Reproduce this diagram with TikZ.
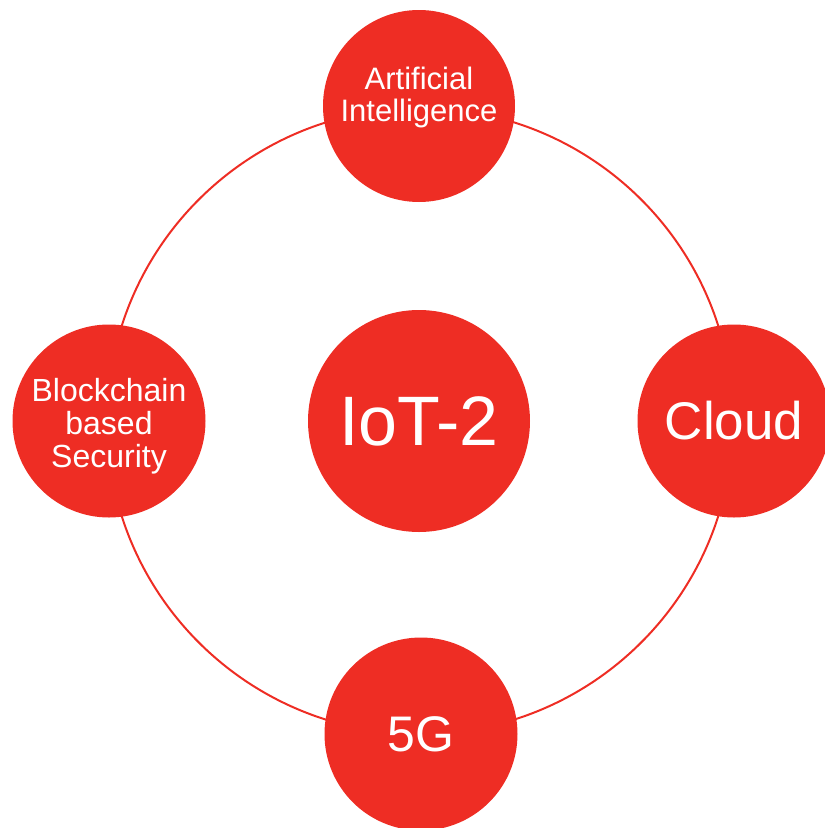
\documentclass[tikz,border=0pt]{standalone}
\usepackage{fontspec}
\setmainfont{Liberation Sans}
\definecolor{iotred}{HTML}{EE2D24}
\begin{document}
\begin{tikzpicture}[x=1pt,y=-1pt,
  bubble/.style={circle,fill=iotred,draw=none,inner sep=0pt,text=white,align=center},
  bubbletext/.style={text=white,align=center,inner sep=0pt},
  ringline/.style={draw=iotred,line width=2pt}]
\useasboundingbox (0,0) rectangle (825,828);
\node[circle,ringline,minimum size=626pt,inner sep=0pt] (ring) at (420,421) {};
\node[bubble,minimum size=222pt,font=\fontsize{70}{70}\selectfont] (iot) at (419,421) {IoT-2};
\node[bubble,minimum size=192pt,
  label={[bubbletext,font=\fontsize{31}{32}\selectfont,shift={(0,-9)}]center:{Artificial\\Intelligence}}] (ai) at (419,106) {};
\node[bubble,minimum size=193pt,
  label={[bubbletext,font=\fontsize{32}{33}\selectfont,shift={(0,5)}]center:{Blockchain\\based\\Security}}] (bc) at (109,421) {};
\node[bubble,minimum size=193pt,font=\fontsize{53}{53}\selectfont] (cloud) at (734,421) {Cloud};
\node[bubble,minimum size=193pt,font=\fontsize{50}{50}\selectfont] (fiveg) at (421,734) {5G};
\end{tikzpicture}
\end{document}
